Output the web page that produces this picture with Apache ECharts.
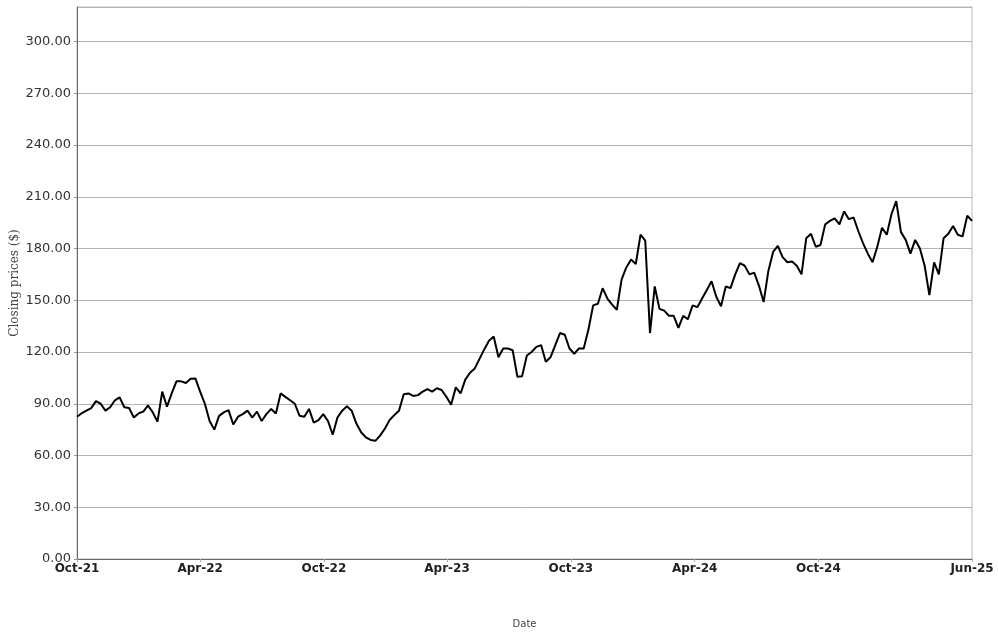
<!DOCTYPE html>
<html>
<head>
<meta charset="utf-8">
<script src="https://cdn.jsdelivr.net/npm/echarts@6/dist/echarts.min.js"></script>
<style>
html,body{margin:0;padding:0;background:#fff;}
#chart{width:998px;height:634px;}
</style>
</head>
<body>
<div id="chart"></div>
<script>
// Weekly sample dates
const dates = [
'2021-10-01','2021-10-08','2021-10-15','2021-10-22','2021-10-29','2021-11-05','2021-11-12','2021-11-19','2021-11-26','2021-12-03',
'2021-12-10','2021-12-17','2021-12-24','2021-12-31','2022-01-07','2022-01-14','2022-01-21','2022-01-28','2022-02-04','2022-02-11',
'2022-02-18','2022-02-25','2022-03-04','2022-03-11','2022-03-18','2022-03-25','2022-04-01','2022-04-08','2022-04-15','2022-04-22',
'2022-04-29','2022-05-06','2022-05-13','2022-05-20','2022-05-27','2022-06-03','2022-06-10','2022-06-17','2022-06-24','2022-07-01',
'2022-07-08','2022-07-15','2022-07-22','2022-07-29','2022-08-05','2022-08-12','2022-08-19','2022-08-26','2022-09-02','2022-09-09',
'2022-09-16','2022-09-23','2022-09-30','2022-10-07','2022-10-14','2022-10-21','2022-10-28','2022-11-04','2022-11-11','2022-11-18',
'2022-11-25','2022-12-02','2022-12-09','2022-12-16','2022-12-23','2022-12-30','2023-01-06','2023-01-13','2023-01-20','2023-01-27',
'2023-02-03','2023-02-10','2023-02-17','2023-02-24','2023-03-03','2023-03-10','2023-03-17','2023-03-24','2023-03-31','2023-04-07',
'2023-04-14','2023-04-21','2023-04-28','2023-05-05','2023-05-12','2023-05-19','2023-05-26','2023-06-02','2023-06-09','2023-06-16',
'2023-06-23','2023-06-30','2023-07-07','2023-07-14','2023-07-21','2023-07-28','2023-08-04','2023-08-11','2023-08-18','2023-08-25',
'2023-09-01','2023-09-08','2023-09-15','2023-09-22','2023-09-29','2023-10-06','2023-10-13','2023-10-20','2023-10-27','2023-11-03',
'2023-11-10','2023-11-17','2023-11-24','2023-12-01','2023-12-08','2023-12-15','2023-12-22','2023-12-29','2024-01-05','2024-01-12',
'2024-01-19','2024-01-26','2024-02-02','2024-02-09','2024-02-16','2024-02-23','2024-03-01','2024-03-08','2024-03-15','2024-03-22',
'2024-03-29','2024-04-05','2024-04-12','2024-04-19','2024-04-26','2024-05-03','2024-05-10','2024-05-17','2024-05-24','2024-05-31',
'2024-06-07','2024-06-14','2024-06-21','2024-06-28','2024-07-05','2024-07-12','2024-07-19','2024-07-26','2024-08-02','2024-08-09',
'2024-08-16','2024-08-23','2024-08-30','2024-09-06','2024-09-13','2024-09-20','2024-09-27','2024-10-04','2024-10-11','2024-10-18',
'2024-10-25','2024-11-01','2024-11-08','2024-11-15','2024-11-22','2024-11-29','2024-12-06','2024-12-13','2024-12-20','2024-12-27',
'2025-01-03','2025-01-10','2025-01-17','2025-01-24','2025-01-31','2025-02-07','2025-02-14','2025-02-21','2025-02-28','2025-03-07',
'2025-03-14','2025-03-21','2025-03-28','2025-04-04','2025-04-11','2025-04-18','2025-04-25','2025-05-02','2025-05-09','2025-05-16'
];

// Closing prices ($)
const closes = [
82.5, 84.5, 86, 87.5, 91.5, 90, 86, 88, 92, 93.7,
88, 87.5, 82, 84.4, 85.5, 89, 85, 79.6, 97, 88.3,
96, 103, 103, 102, 104.5, 104.7, 97, 90, 80, 75,
83, 85, 86.3, 78, 82.5, 84, 86, 82, 85.4, 80,
84, 87, 84.4, 96, 94, 92, 90, 83, 82.5, 87,
79, 80.5, 84, 80, 72, 82, 86, 88.5, 86, 78.5,
73.5, 70.5, 69, 68.5, 71.5, 75.5, 80.5, 83.4, 86, 95.5,
96, 94.5, 95, 97, 98.5, 97, 99, 98, 94, 89.5,
99.5, 96, 104, 108, 110.5, 116, 121.5, 126.5, 129, 117,
122, 122, 121, 105.6, 106, 118, 120, 123, 124, 114.4,
117, 124, 131, 130, 122, 119, 122, 122, 133, 147,
148, 157, 151, 147.5, 144.5, 162, 169, 173.6, 171, 188,
184.5, 131, 158, 145, 144, 141, 141, 134, 141, 139,
147, 146, 151, 156, 161, 152, 146.5, 158, 157, 165,
171.5, 170, 165, 166, 158.5, 149, 167, 178, 181.5, 175,
172, 172.5, 170, 165, 186, 188.5, 181, 182, 194, 196,
197.5, 194, 201.5, 197, 198, 190, 183, 177, 172, 181,
192, 188, 200, 207.5, 189.5, 185, 177, 185, 180, 170,
153, 172, 165, 186, 188.5, 193, 188, 187, 199, 196
];

// X-axis tick positions and labels
const tickDates = ['2021-10-01','2022-04-01','2022-10-01','2023-04-01','2023-10-01','2024-04-01','2024-10-01','2025-05-16'];
const tickLabels = ['Oct-21','Apr-22','Oct-22','Apr-23','Oct-23','Apr-24','Oct-24','Jun-25'];

const ts = s => echarts.number.parseDate(s).getTime();
const tickTs = tickDates.map(ts);
const seriesData = dates.map((d, i) => [ts(d), closes[i]]);

const chart = echarts.init(document.getElementById('chart'));
chart.setOption({
  animation: false,
  backgroundColor: '#fff',
  grid: {left: 77, right: 26, top: 7, bottom: 75, containLabel: false, outerBoundsMode: 'none',
         show: true, borderColor: '#b8b8b8', borderWidth: 1},
  xAxis: {
    type: 'value',
    min: tickTs[0],
    max: tickTs[tickTs.length - 1],
    name: 'Date',
    nameLocation: 'middle',
    nameGap: 60,
    nameMoveOverlap: false,
    nameTextStyle: {fontFamily: 'DejaVu Sans', fontSize: 10, color: '#444'},
    axisLine: {show: true, lineStyle: {color: '#666', width: 1}},
    axisTick: {show: true, length: 3, lineStyle: {color: '#aaa'}, customValues: tickTs},
    splitLine: {show: false},
    axisLabel: {
      customValues: tickTs,
      fontFamily: 'DejaVu Sans', fontWeight: 'bold', fontSize: 12, color: '#222', margin: 4,
      formatter: function (v) {
        let best = 0;
        for (let k = 1; k < tickTs.length; k++) {
          if (Math.abs(tickTs[k] - v) < Math.abs(tickTs[best] - v)) best = k;
        }
        return tickLabels[best];
      }
    }
  },
  yAxis: {
    type: 'value',
    min: 0, max: 320, interval: 30,
    name: 'Closing prices ($)',
    nameLocation: 'middle',
    nameGap: 56,
    nameMoveOverlap: false,
    nameTextStyle: {fontFamily: 'DejaVu Serif', fontSize: 12, color: '#444'},
    axisLine: {show: true, lineStyle: {color: '#666', width: 1}},
    axisTick: {show: true, length: 3, lineStyle: {color: '#999'}},
    splitLine: {show: true, lineStyle: {color: '#b4b4b4', width: 1}},
    axisLabel: {
      showMaxLabel: false,
      fontFamily: 'DejaVu Sans', fontSize: 13, color: '#333', margin: 6,
      formatter: v => v.toFixed(2)
    }
  },
  series: [{
    type: 'line',
    data: seriesData,
    showSymbol: false,
    lineStyle: {color: '#000', width: 2},
    itemStyle: {color: '#000'}
  }]
});
</script>
</body>
</html>
